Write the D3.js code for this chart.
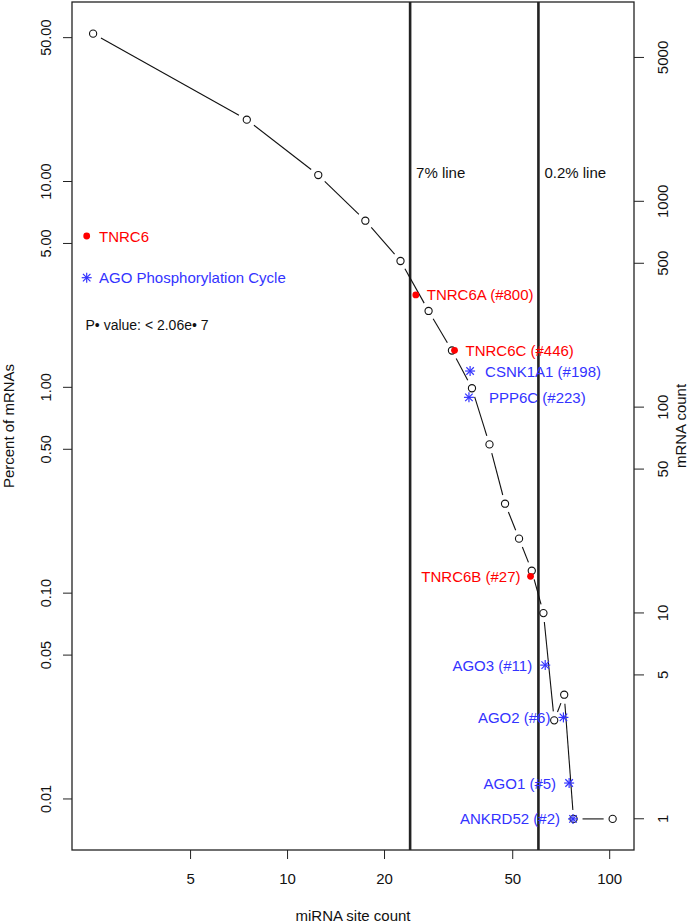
<!DOCTYPE html>
<html>
<head>
<meta charset="utf-8">
<script src="https://cdn.jsdelivr.net/npm/d3@7"></script>
<style>
  body { margin: 0; background: #fff; }
  text { font-family: "Liberation Sans", Arial, Helvetica, sans-serif; }
</style>
</head>
<body>
<div id="chart"></div>
<script>
// site count bins (x) and percent of mRNAs (y), line with open circles
const siteCounts = [2.5, 7.5, 12.5, 17.5, 22.5, 27.5, 32.5, 37.5, 42.5, 47.5, 52.5, 57.5, 62.5, 67.5, 72.5, 77.5, 102.5];
const pctMRNA = [52.3, 19.97, 10.75, 6.45, 4.11, 2.35, 1.51, 0.99, 0.528, 0.272, 0.184, 0.1285, 0.080, 0.0241, 0.0321, 0.008, 0.008];

// TNRC6 genes (red dots)
const tnrcNames = ["TNRC6A (#800)", "TNRC6C (#446)", "TNRC6B (#27)"];
const tnrcX = [25.1, 33.1, 57.0];
const tnrcY = [2.81, 1.513, 0.1207];
const tnrcSide = ["right", "right", "left"];

// AGO phosphorylation cycle genes (blue asterisks)
const agoNames = ["CSNK1A1 (#198)", "PPP6C (#223)", "AGO3 (#11)", "AGO2 (#6)", "AGO1 (#5)", "ANKRD52 (#2)"];
const agoX = [37.0, 36.7, 63.3, 72.1, 75.1, 77.2];
const agoY = [1.20, 0.894, 0.0447, 0.0249, 0.01195, 0.008];
const agoSide = ["right", "right", "left", "left", "left", "left"];

// cutoff lines
const cutNames = ["7% line", "0.2% line"];
const cutX = [24.1, 60.3];

const xTicks = [5, 10, 20, 50, 100];
const yTicks = [0.01, 0.05, 0.10, 0.50, 1.00, 5.00, 10.00, 50.00];
const countTicks = [1, 5, 10, 50, 100, 500, 1000, 5000];
const totalMRNA = 12480;

const width = 688, height = 923;
const plotL = 72, plotR = 634, plotT = 2, plotB = 850;
const red = "#ff0000", blue = "#3333ff";

const svg = d3.select("#chart").append("svg")
  .attr("width", width)
  .attr("height", height);

const x = d3.scaleLog().domain([2.15, 119.4]).range([plotL, plotR]);
const y = d3.scaleLog().domain([0.00565, 74.5]).range([plotB, plotT]);
const yCount = d3.scaleLog()
  .domain(y.domain().map(d => d * totalMRNA / 100))
  .range([plotB, plotT]);

// axes
svg.append("g")
  .attr("transform", "translate(0," + plotB + ")")
  .call(d3.axisBottom(x).tickValues(xTicks).tickFormat(d3.format("d")).tickSize(9).tickPadding(14))
  .call(g => g.select(".domain").remove())
  .call(g => g.selectAll("text").attr("font-size", 15).attr("fill", "#111"));

svg.append("g")
  .attr("transform", "translate(" + plotL + ",0)")
  .call(d3.axisLeft(y).tickValues(yTicks).tickFormat(d3.format(".2f")).tickSize(9))
  .call(g => g.select(".domain").remove())
  .call(g => g.selectAll(".tick").attr("transform", null))
  .call(g => g.selectAll(".tick line").attr("y1", d => y(d)).attr("y2", d => y(d)))
  .call(g => g.selectAll("text")
    .attr("font-size", 14.5).attr("fill", "#111")
    .attr("text-anchor", "middle")
    .attr("dy", null)
    .attr("x", 0)
    .attr("y", 0)
    .attr("transform", d => "translate(-26," + y(d) + ") rotate(-90)")
    .attr("dominant-baseline", "central"));

svg.append("g")
  .attr("transform", "translate(" + plotR + ",0)")
  .call(d3.axisRight(yCount).tickValues(countTicks).tickFormat(d3.format("d")).tickSize(10))
  .call(g => g.select(".domain").remove())
  .call(g => g.selectAll(".tick").attr("transform", null))
  .call(g => g.selectAll(".tick line").attr("y1", d => yCount(d)).attr("y2", d => yCount(d)))
  .call(g => g.selectAll("text")
    .attr("font-size", 15).attr("fill", "#111")
    .attr("text-anchor", "middle")
    .attr("dy", null)
    .attr("x", 0)
    .attr("y", 0)
    .attr("transform", d => "translate(28," + yCount(d) + ") rotate(-90)")
    .attr("dominant-baseline", "central"));

svg.selectAll(".tick line").attr("stroke", "#222");

// box
svg.append("rect")
  .attr("x", plotL).attr("y", plotT)
  .attr("width", plotR - plotL).attr("height", plotB - plotT)
  .attr("fill", "none").attr("stroke", "#222").attr("stroke-width", 1.3);

// titles
svg.append("text")
  .attr("x", (plotL + plotR) / 2).attr("y", 915)
  .attr("text-anchor", "middle").attr("dominant-baseline", "central")
  .attr("font-size", 15).attr("fill", "#111")
  .text("miRNA site count");

svg.append("text")
  .attr("transform", "translate(8," + (plotT + plotB) / 2 + ") rotate(-90)")
  .attr("text-anchor", "middle").attr("dominant-baseline", "central")
  .attr("font-size", 15).attr("fill", "#111")
  .text("Percent of mRNAs");

svg.append("text")
  .attr("transform", "translate(680," + (plotT + plotB) / 2 + ") rotate(-90)")
  .attr("text-anchor", "middle").attr("dominant-baseline", "central")
  .attr("font-size", 15).attr("fill", "#111")
  .text("mRNA count");

// cutoff lines
cutX.forEach(function(c, i) {
  svg.append("line")
    .attr("x1", x(c)).attr("x2", x(c))
    .attr("y1", plotT).attr("y2", plotB)
    .attr("stroke", "#222").attr("stroke-width", 2.6);
  svg.append("text")
    .attr("x", x(c) + 6).attr("y", 172)
    .attr("dominant-baseline", "central")
    .attr("font-size", 15).attr("fill", "#111")
    .text(cutNames[i]);
});

// line with gaps (like type = "b")
const pts = siteCounts.map((d, i) => [x(d), y(pctMRNA[i])]);
const gap = 9;
for (let i = 0; i < pts.length - 1; i++) {
  const [x1, y1] = pts[i], [x2, y2] = pts[i + 1];
  const len = Math.hypot(x2 - x1, y2 - y1);
  if (len <= 2 * gap) continue;
  const ux = (x2 - x1) / len, uy = (y2 - y1) / len;
  svg.append("line")
    .attr("x1", x1 + ux * gap).attr("y1", y1 + uy * gap)
    .attr("x2", x2 - ux * gap).attr("y2", y2 - uy * gap)
    .attr("stroke", "#111").attr("stroke-width", 1.1);
}

svg.selectAll(".pt")
  .data(pts)
  .enter().append("circle")
  .attr("class", "pt")
  .attr("cx", d => d[0]).attr("cy", d => d[1])
  .attr("r", 3.6)
  .attr("fill", "none").attr("stroke", "#111").attr("stroke-width", 1.1);

function asterisk(cx, cy, s) {
  const g = svg.append("g").attr("stroke", blue).attr("stroke-width", 1.2);
  g.append("line").attr("x1", cx - s).attr("x2", cx + s).attr("y1", cy).attr("y2", cy);
  g.append("line").attr("x1", cx).attr("x2", cx).attr("y1", cy - s).attr("y2", cy + s);
  const d = s * 0.75;
  g.append("line").attr("x1", cx - d).attr("x2", cx + d).attr("y1", cy - d).attr("y2", cy + d);
  g.append("line").attr("x1", cx - d).attr("x2", cx + d).attr("y1", cy + d).attr("y2", cy - d);
}

// red TNRC6 points
tnrcX.forEach(function(v, i) {
  const cx = x(v), cy = y(tnrcY[i]);
  svg.append("circle").attr("cx", cx).attr("cy", cy).attr("r", 3.4).attr("fill", red);
  svg.append("text")
    .attr("x", tnrcSide[i] == "right" ? cx + 11 : cx - 10)
    .attr("y", cy)
    .attr("text-anchor", tnrcSide[i] == "right" ? "start" : "end")
    .attr("dominant-baseline", "central")
    .attr("font-size", 15).attr("fill", red)
    .text(tnrcNames[i]);
});

// blue AGO points
agoX.forEach(function(v, i) {
  const cx = x(v), cy = y(agoY[i]);
  asterisk(cx, cy, 5);
  svg.append("text")
    .attr("x", agoSide[i] == "right" ? cx + (i == 0 ? 15 : 20) : cx - 13)
    .attr("y", cy)
    .attr("text-anchor", agoSide[i] == "right" ? "start" : "end")
    .attr("dominant-baseline", "central")
    .attr("font-size", 15).attr("fill", blue)
    .text(agoNames[i]);
});

// legend
svg.append("circle").attr("cx", 86.7).attr("cy", 236).attr("r", 3.4).attr("fill", red);
svg.append("text").attr("x", 99).attr("y", 236).attr("dominant-baseline", "central")
  .attr("font-size", 15).attr("fill", red).text("TNRC6");
asterisk(86.7, 277.7, 5);
svg.append("text").attr("x", 99).attr("y", 277.7).attr("dominant-baseline", "central")
  .attr("font-size", 15).attr("fill", blue).text("AGO Phosphorylation Cycle");

svg.append("text").attr("x", 85.5).attr("y", 325).attr("dominant-baseline", "central")
  .attr("font-size", 14).attr("fill", "#111").text("P\u2022 value: < 2.06e\u2022 7");
</script>
</body>
</html>
